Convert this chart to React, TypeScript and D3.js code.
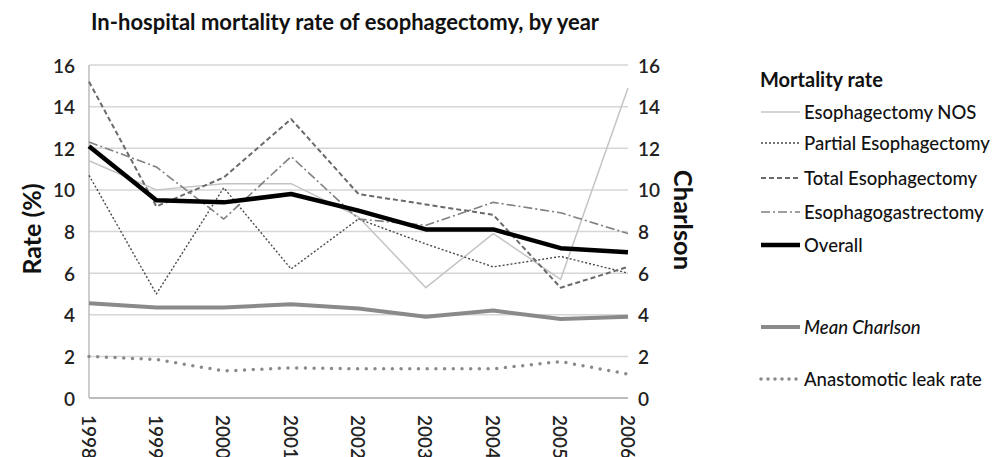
import React from "react";
import * as d3 from "d3";

const years = ["1998", "1999", "2000", "2001", "2002", "2003", "2004", "2005", "2006"];
const nosRate = [11.4, 10.0, 10.3, 10.3, 8.7, 5.3, 7.9, 5.7, 14.9];
const partialRate = [10.7, 5.0, 10.1, 6.2, 8.6, 7.4, 6.3, 6.8, 6.0];
const totalRate = [15.2, 9.2, 10.6, 13.4, 9.8, 9.3, 8.8, 5.3, 6.3];
const esgRate = [12.3, 11.1, 8.6, 11.6, 8.6, 8.3, 9.4, 8.9, 7.9];
const overallRate = [12.1, 9.5, 9.4, 9.8, 9.0, 8.1, 8.1, 7.2, 7.0];
const meanCharlson = [4.55, 4.35, 4.35, 4.5, 4.3, 3.9, 4.2, 3.8, 3.9];
const leakRate = [2.0, 1.85, 1.3, 1.45, 1.4, 1.4, 1.4, 1.75, 1.15];
const yTicks = [0, 2, 4, 6, 8, 10, 12, 14, 16];

const FONT = "Lato, 'Open Sans', sans-serif";

type Style = { stroke: string; width: number; dash?: string; cap?: "round" | "butt" };

const seriesDefs: { label: string; values: number[]; style: Style; italic?: boolean }[] = [
  { label: "Esophagectomy NOS", values: nosRate, style: { stroke: "#c4c4c4", width: 1.5 } },
  { label: "Partial Esophagectomy", values: partialRate, style: { stroke: "#4a4a4a", width: 1.4, dash: "2,2" } },
  { label: "Total Esophagectomy", values: totalRate, style: { stroke: "#6a6a6a", width: 2, dash: "5,3" } },
  { label: "Esophagogastrectomy", values: esgRate, style: { stroke: "#808080", width: 1.6, dash: "9,3,2,3" } },
  { label: "Overall", values: overallRate, style: { stroke: "#000", width: 4.5 } },
  { label: "Mean Charlson", values: meanCharlson, style: { stroke: "#8a8a8a", width: 4 }, italic: true },
  { label: "Anastomotic leak rate", values: leakRate, style: { stroke: "#8a8a8a", width: 3.5, dash: "0,8.7", cap: "round" } },
];

const legendY = [112, 143, 178, 212, 245, 327, 379];

export default function App() {
  const x = d3.scalePoint<string>().domain(years).range([89, 628]);
  const y = d3.scaleLinear().domain([0, 16]).range([398, 65]);
  const line = d3
    .line<number>()
    .x((_, i) => x(years[i]) as number)
    .y((d) => y(d));

  return (
    <svg width={1005} height={457} style={{ position: "absolute", left: 0, top: 0, background: "#fff" }}>
      <rect width={1005} height={457} fill="#fff" />
      <text x={91} y={30} fontFamily={FONT} fontSize={22} fontWeight={700} fill="#111">
        In-hospital mortality rate of esophagectomy, by year
      </text>
      {yTicks.map((t) => (
        <line key={"g" + t} x1={89} x2={628} y1={y(t)} y2={y(t)} stroke={t === 0 ? "#bdbdbd" : "#d6d6d6"} strokeWidth={t === 0 ? 2 : 1.5} />
      ))}
      <line x1={89} x2={89} y1={y(16)} y2={y(0)} stroke="#bdbdbd" strokeWidth={1.5} />
      {yTicks.map((t) => (
        <text key={"l" + t} x={75} y={y(t)} textAnchor="end" dominantBaseline="central" fontFamily={FONT} fontSize={19} fontWeight={600} fill="#222">
          {t}
        </text>
      ))}
      {yTicks.map((t) => (
        <text key={"r" + t} x={638} y={y(t)} textAnchor="start" dominantBaseline="central" fontFamily={FONT} fontSize={19} fontWeight={600} fill="#222">
          {t}
        </text>
      ))}
      {years.map((yr) => (
        <text key={"x" + yr} transform={`translate(${x(yr)},415) rotate(90)`} textAnchor="start" dominantBaseline="central" fontFamily={FONT} fontSize={19} fontWeight={600} fill="#222">
          {yr}
        </text>
      ))}
      <text transform="translate(31,229) rotate(-90)" textAnchor="middle" dominantBaseline="central" fontFamily={FONT} fontSize={25} fontWeight={700} fill="#111">
        Rate (%)
      </text>
      <text transform="translate(684,220) rotate(90)" textAnchor="middle" dominantBaseline="central" fontFamily={FONT} fontSize={25.5} fontWeight={700} fill="#111">
        Charlson
      </text>
      {seriesDefs.map((s) => (
        <path
          key={s.label}
          d={line(s.values) || ""}
          fill="none"
          stroke={s.style.stroke}
          strokeWidth={s.style.width}
          strokeDasharray={s.style.dash}
          strokeLinecap={s.style.cap || "butt"}
          strokeLinejoin="round"
        />
      ))}
      <text x={760} y={87} fontFamily={FONT} fontSize={20} fontWeight={700} fill="#111">
        Mortality rate
      </text>
      {seriesDefs.map((s, i) => (
        <g key={"lg" + s.label}>
          <line
            x1={761}
            x2={800}
            y1={legendY[i]}
            y2={legendY[i]}
            stroke={s.style.stroke}
            strokeWidth={s.style.width}
            strokeDasharray={s.style.dash ? (s.style.cap === "round" ? "0,7" : s.style.dash) : undefined}
            strokeLinecap={s.style.cap || "butt"}
          />
          <text x={804} y={legendY[i]} dominantBaseline="central" fontFamily={FONT} fontSize={18.5} fontStyle={s.italic ? "italic" : "normal"} fontWeight={500} fill="#111">
            {s.label}
          </text>
        </g>
      ))}
    </svg>
  );
}
